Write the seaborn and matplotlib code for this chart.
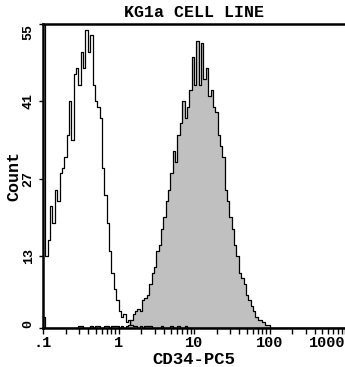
import numpy as np
import pandas as pd
import matplotlib
matplotlib.use("Agg")
import matplotlib.pyplot as plt
import seaborn as sns

# ---------------- data ----------------
title = "KG1a CELL LINE"
x_label = "CD34-PC5"
y_label = "Count"
channels_per_decade = 32
log_min, log_max = -1, 3

# isotype control (open histogram), counts per channel starting at channel 0
open_counts = [60, 13, 16, 22, 19, 25, 23, 28, 29, 31, 35, 41, 34, 46, 47, 44,
               50, 47, 54, 50, 53, 44, 41, 40, 38, 29, 24, 19, 14, 10, 7, 5,
               3, 2, 2.5, 1, 1.5, 0.5, 0.4, 0.4, 0, 0.4, 0, 0.4, 0.4, 0.4, 0, 0,
               0, 0, 0.4, 0, 0, 0, 0.4, 0, 0, 0.4, 0, 0, 0.4]

# CD34 stained (filled histogram), counts per channel starting at channel 0
filled_counts = [2, 0, 0, 0, 0, 0, 0, 0, 0, 0, 0, 0, 0, 0, 0, 0.4,
                 0.4, 0, 0, 0, 0.4, 0, 0.4, 0.4, 0, 0, 0.4, 0.4, 0, 0.4, 0.4, 0.4,
                 0, 0.4, 0, 0.4, 0.5, 1.5, 2.5, 3, 3.5, 3, 5, 5.5, 6, 8, 10, 11,
                 14, 15, 18, 20, 23, 25, 28, 32, 30, 35, 37, 41, 38, 40, 43, 49,
                 44, 52, 44, 51.5, 45, 47, 42, 43, 40, 39, 35, 33, 31, 25, 23, 20,
                 18, 15, 13, 10, 9, 8, 6, 5, 4, 3, 2, 1.5, 1.5, 1, 0.5, 0.5]

x_ticks = [0.1, 1, 10, 100, 1000]
x_tick_labels = [".1", "1", "10", "100", "1000"]
y_ticks = [0, 13, 27, 41, 55]
y_tick_labels = ["0", "13", "27", "41", "55"]


def to_frame(counts):
    idx = np.arange(len(counts))
    return pd.DataFrame({
        "fluor": 10 ** (log_min + (idx + 0.5) / channels_per_decade),
        "count": counts,
    })


df_open = to_frame(open_counts)
df_filled = to_frame(filled_counts)
bin_edges = np.linspace(log_min, log_max,
                        (log_max - log_min) * channels_per_decade + 1).tolist()

# ---------------- plot ----------------
sns.set_theme(style="white")
plt.rcParams["font.family"] = ["Liberation Mono", "DejaVu Sans Mono"]
plt.rcParams["font.weight"] = "bold"

fig = plt.figure(figsize=(3.45, 3.67), dpi=100)
ax = fig.add_axes([43 / 345, 39 / 367, 302 / 345, 304 / 367])

sns.histplot(data=df_filled, x="fluor", weights="count", bins=bin_edges,
             log_scale=True, element="step", fill=True, color="#c0c0c0",
             edgecolor="black", linewidth=0.9, alpha=1, ax=ax, zorder=2)
sns.histplot(data=df_open, x="fluor", weights="count", bins=bin_edges,
             log_scale=True, element="step", fill=False, color="black",
             linewidth=0.9, ax=ax, zorder=3)

ax.set_xscale("log")
ax.set_xlim(10 ** log_min, 10 ** log_max)
ax.set_ylim(0, 55)

ax.set_xticks(x_ticks)
ax.set_xticklabels(x_tick_labels, fontsize=11, fontweight="bold")
minor = [m * 10.0 ** d for d in range(-1, 3) for m in range(2, 10)]
ax.set_xticks(minor, minor=True)
ax.set_xticklabels([], minor=True)
xl = ax.get_xticklabels()
xl[-1].set_horizontalalignment("right")

ax.set_yticks(y_ticks)
ax.set_yticklabels(y_tick_labels, fontsize=9.5, fontweight="bold",
                   rotation=90, va="center")
yl = ax.get_yticklabels()
yl[0].set_verticalalignment("bottom")
yl[-1].set_verticalalignment("top")

ax.tick_params(axis="x", which="both", direction="out", length=4, width=1,
               color="black", pad=2, labelcolor="black", bottom=True)
ax.tick_params(axis="y", which="both", direction="out", length=3, width=1,
               color="black", pad=3, labelcolor="black", left=True)

for side in ["top", "left", "bottom"]:
    ax.spines[side].set_visible(True)
    ax.spines[side].set_color("black")
    ax.spines[side].set_linewidth(1.8)
ax.spines["right"].set_visible(False)

ax.set_xlabel(x_label, fontsize=12.5, fontweight="bold", labelpad=1,
              color="black")
ax.set_ylabel(y_label, fontsize=12, fontweight="bold", labelpad=1,
              color="black")
ax.set_title(title, fontsize=12, fontweight="bold", pad=5, color="black")

fig.savefig("out.png", dpi=100)
